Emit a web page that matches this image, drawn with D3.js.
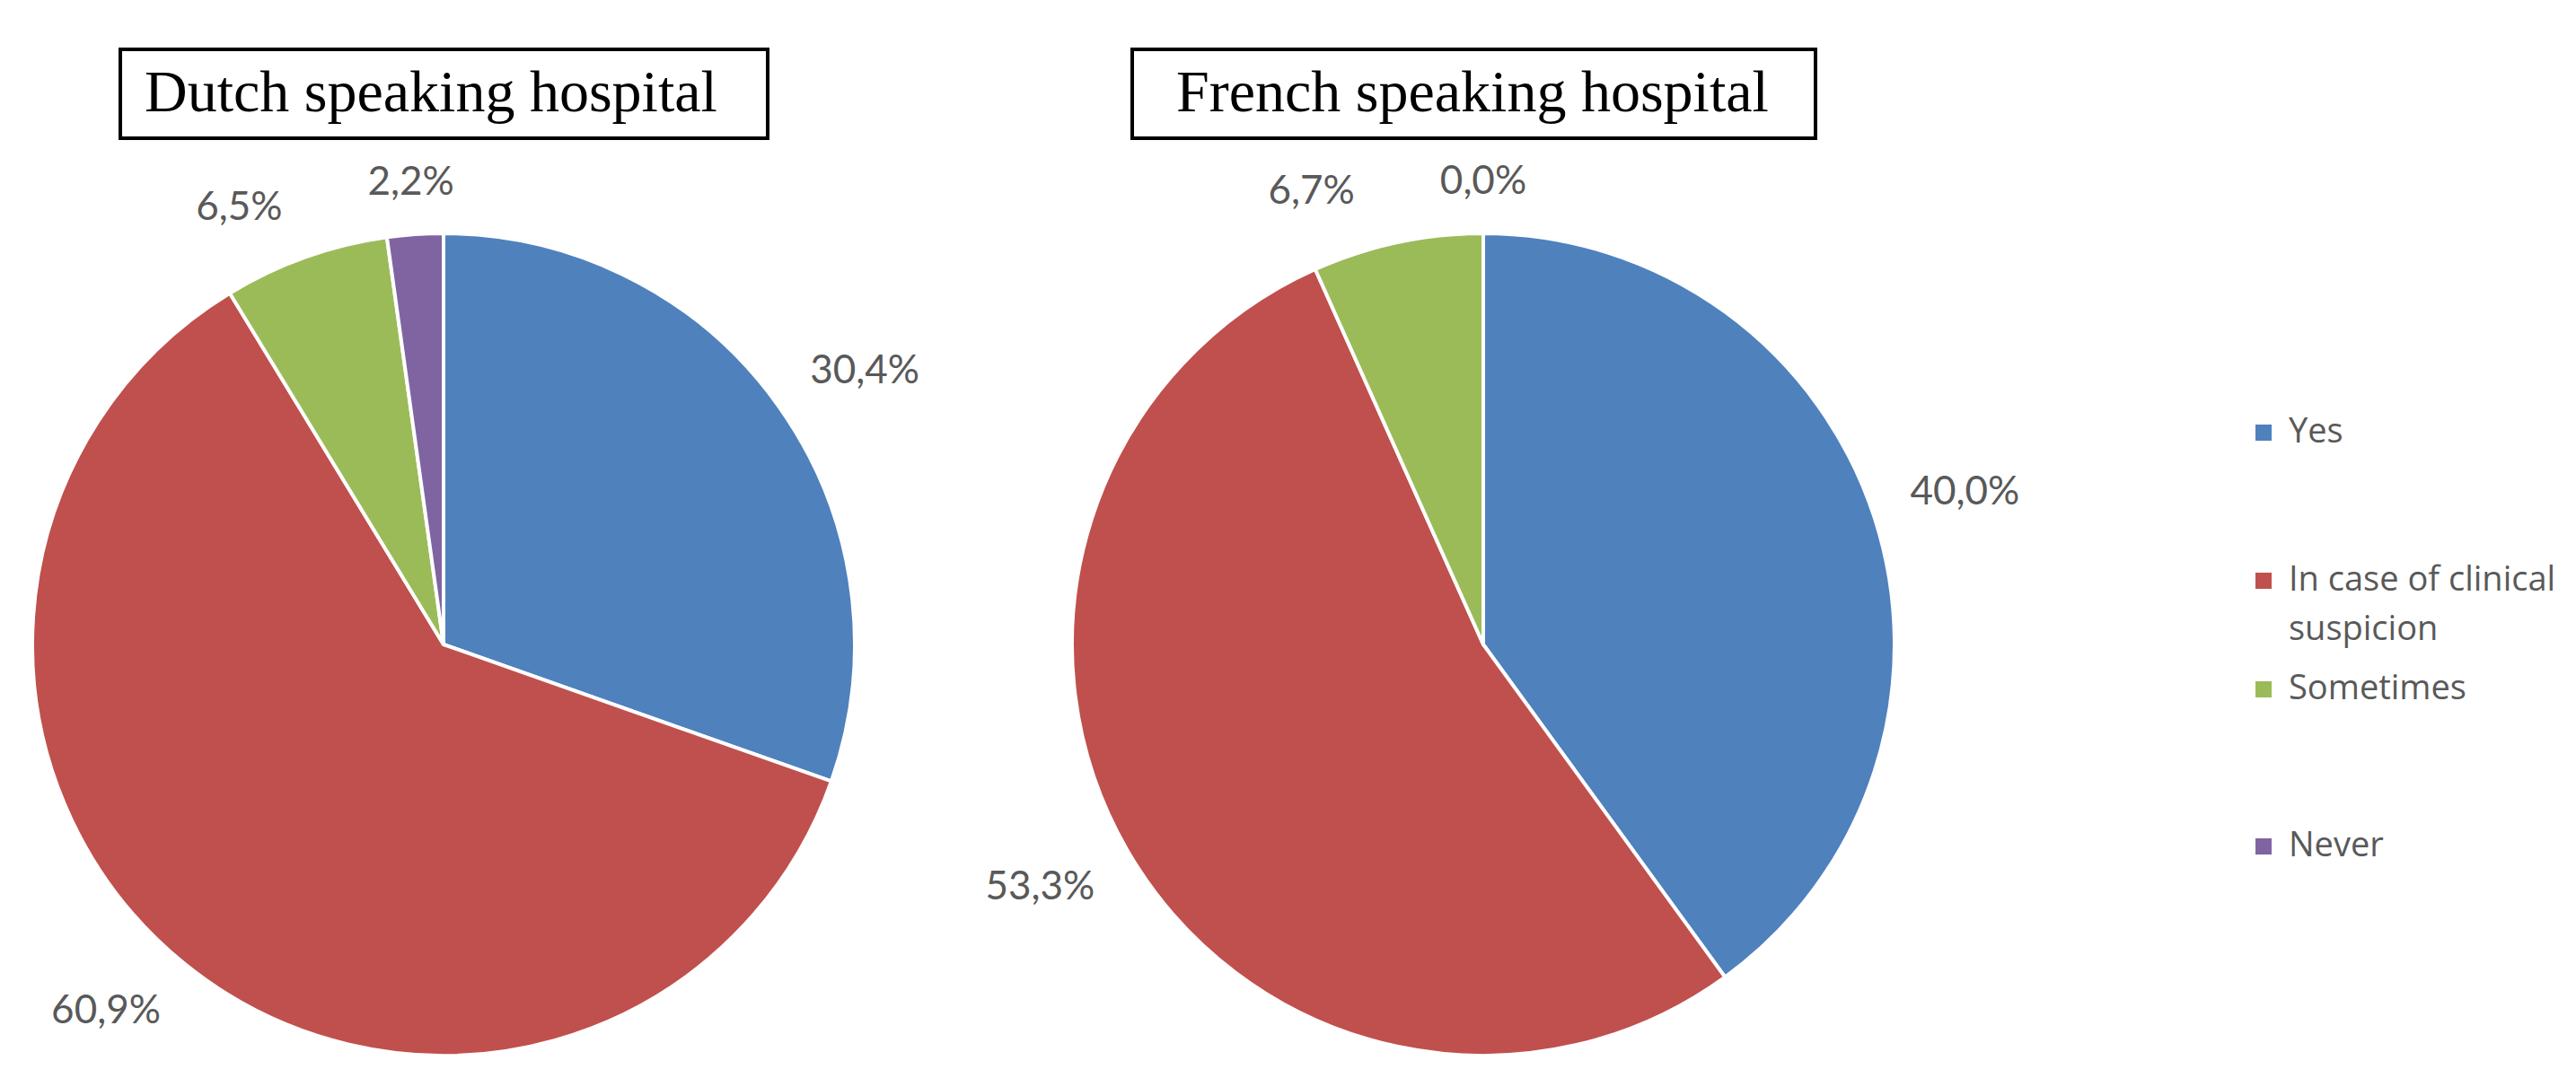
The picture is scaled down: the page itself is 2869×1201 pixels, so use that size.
<!DOCTYPE html>
<html>
<head>
<meta charset="utf-8">
<script src="https://cdn.jsdelivr.net/npm/d3@7"></script>
<style>
  body { margin: 0; background: #fff; }
</style>
</head>
<body>
<div id="chart"></div>
<script>
// data
var categories = ["Yes", "In case of clinical suspicion", "Sometimes", "Never"];
var legendLines = [["Yes"], ["In case of clinical", "suspicion"], ["Sometimes"], ["Never"]];
var hospitals = ["Dutch speaking hospital", "French speaking hospital"];
var dutchValues = [30.4, 60.9, 6.5, 2.2];
var frenchValues = [40.0, 53.3, 6.7, 0.0];
var colors = ["#4F81BD", "#C0504D", "#9BBB59", "#8064A2"];

var svgWidth = 2869;
var svgHeight = 1201;

var svg = d3.select("#chart")
  .append("svg")
  .attr("width", svgWidth)
  .attr("height", svgHeight);

var color = d3.scaleOrdinal().domain(categories).range(colors);

// comma decimal like the original
var locale = d3.formatLocale({decimal: ",", thousands: ".", grouping: [3], currency: ["", "€"]});
var fmt = locale.format(".1f");

var radius = 458;
var labelRadius = 500;
var minGap = 95;
var panels = [
  {title: hospitals[0], values: dutchValues, cx: 494, cy: 718, box: [134, 55, 721, 99], textX: 161},
  {title: hospitals[1], values: frenchValues, cx: 1652, cy: 718, box: [1261, 55, 761, 99], textX: 1310}
];

var pie = d3.pie().sort(null).value(d => d);
var arc = d3.arc().innerRadius(0).outerRadius(radius);

function clamp(v) { return Math.max(-1, Math.min(1, v)); }

panels.forEach(function(p) {

  // title box
  svg.append("rect")
    .attr("x", p.box[0])
    .attr("y", p.box[1])
    .attr("width", p.box[2])
    .attr("height", p.box[3])
    .attr("fill", "#fff")
    .attr("stroke", "#000")
    .attr("stroke-width", 4);

  svg.append("text")
    .attr("x", p.textX)
    .attr("y", 124)
    .attr("font-family", "'Liberation Serif', 'Times New Roman', serif")
    .attr("font-size", "66px")
    .attr("fill", "#000")
    .text(p.title);

  var g = svg.append("g")
    .attr("transform", `translate(${p.cx}, ${p.cy})`);

  var slices = pie(p.values);

  g.selectAll("path")
    .data(slices)
    .enter()
    .append("path")
    .attr("d", arc)
    .attr("fill", (d, i) => color(categories[i]))
    .attr("stroke", "#fff")
    .attr("stroke-width", 4)
    .attr("stroke-linejoin", "round");

  // data labels, outside end
  var labels = g.selectAll("text.lbl")
    .data(slices)
    .enter()
    .append("text")
    .attr("class", "lbl")
    .attr("font-family", "Lato, 'Open Sans', sans-serif")
    .attr("font-size", "44px")
    .attr("fill", "#595959")
    .attr("text-anchor", "middle")
    .text(d => fmt(d.data) + "%");

  var pos = [];
  labels.each(function(d) {
    var a = (d.startAngle + d.endAngle) / 2;
    var w = this.getComputedTextLength();
    var h = 36;
    var px = labelRadius * Math.sin(a);
    var py = -labelRadius * Math.cos(a);
    pos.push({
      x: px + (w / 2) * clamp(4 * Math.sin(a)),
      y: py - (h / 2) * clamp(4 * Math.cos(a)),
      w: w,
      h: h,
      weight: d.data > 0 ? 1 : 0   // an empty slice keeps its label on the boundary
    });
  });

  // push neighbouring labels apart when they crowd each other
  for (var i = 0; i < pos.length; i++) {
    var a1 = pos[i], b1 = pos[(i + 1) % pos.length];
    if (Math.abs(a1.y - b1.y) > a1.h) continue;
    var left = a1.x < b1.x ? a1 : b1;
    var right = left === a1 ? b1 : a1;
    var gap = (right.x - right.w / 2) - (left.x + left.w / 2);
    var total = left.weight + right.weight;
    if (gap < minGap && total > 0) {
      left.x -= (minGap - gap) * left.weight / total;
      right.x += (minGap - gap) * right.weight / total;
    }
  }

  labels.attr("x", (d, i) => pos[i].x)
    .attr("y", (d, i) => pos[i].y + 16);
});

// legend
var legendY = [493, 658, 779, 954];
var legend = svg.append("g");

legendLines.forEach(function(lines, i) {
  legend.append("rect")
    .attr("x", 2512)
    .attr("y", legendY[i] - 20)
    .attr("width", 18)
    .attr("height", 18)
    .attr("fill", color(categories[i]));

  var t = legend.append("text")
    .attr("x", 2549)
    .attr("y", legendY[i])
    .attr("font-family", "'Open Sans', sans-serif")
    .attr("font-size", "38px")
    .attr("fill", "#595959");

  lines.forEach(function(line, j) {
    t.append("tspan")
      .attr("x", 2549)
      .attr("dy", j === 0 ? 0 : 55)
      .text(line);
  });
});
</script>
</body>
</html>
